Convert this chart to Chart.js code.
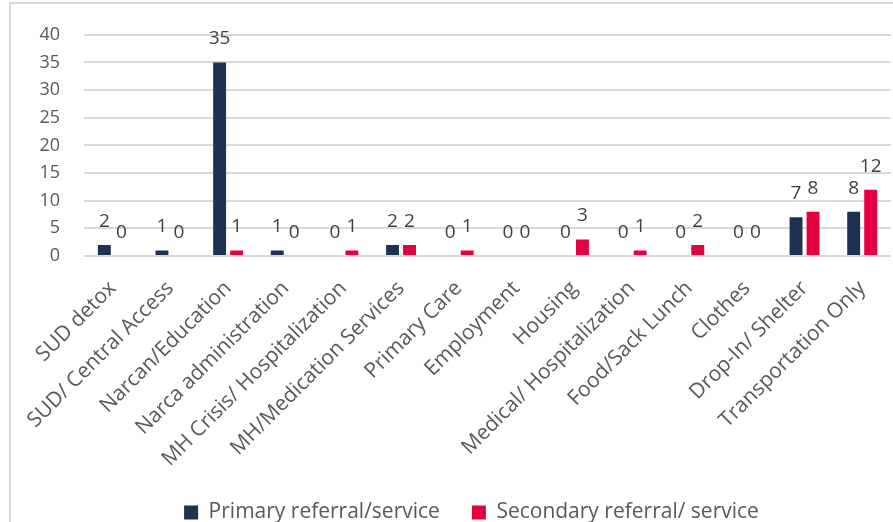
<!DOCTYPE html>
<html>
<head>
<meta charset="utf-8">
<script src="https://cdn.jsdelivr.net/npm/chart.js@4/dist/chart.umd.min.js"></script>
<style>
  html, body { margin: 0; padding: 0; background: #fff; overflow: hidden; }
  body { width: 893px; height: 522px; position: relative; }
  .wrap { position: absolute; left: 0; top: 0; width: 893px; height: 533px; }
  .frame {
    position: absolute; left: 9px; top: 2px; width: 900px; height: 540px;
    border-left: 2px solid #d9d9d9; border-top: 2px solid #d9d9d9;
    pointer-events: none;
  }
</style>
</head>
<body>
<div class="wrap"><canvas id="myChart"></canvas></div>
<div class="frame"></div>
<script>
// Data
const categories = [
  'SUD detox', 'SUD/ Central Access', 'Narcan/Education', 'Narca administration',
  'MH Crisis/ Hospitalization', 'MH/Medication Services', 'Primary Care', 'Employment',
  'Housing', 'Medical/ Hospitalization', 'Food/Sack Lunch', 'Clothes',
  'Drop-In/ Shelter', 'Transportation Only'
]
const primary = [2, 1, 35, 1, 0, 2, 0, 0, 0, 0, 0, 0, 7, 8]
const secondary = [0, 0, 1, 0, 1, 2, 1, 0, 3, 1, 2, 0, 8, 12]
const yTicks = [0, 5, 10, 15, 20, 25, 30, 35, 40]

const FONT = '"Open Sans", "DejaVu Sans", sans-serif'

// value labels above each bar
const valueLabels = {
  id: 'valueLabels',
  afterLayout(chart) {
    // nudge legend a little left, like the original
    chart.legend.left -= 16
    chart.legend.right -= 16
  },
  afterDatasetsDraw(chart) {
    const ctx = chart.ctx
    ctx.save()
    ctx.font = '19px ' + FONT
    ctx.fillStyle = '#404040'
    ctx.textAlign = 'center'
    ctx.textBaseline = 'alphabetic'
    chart.data.datasets.forEach((ds, i) => {
      chart.getDatasetMeta(i).data.forEach((bar, j) => {
        ctx.fillText(String(ds.data[j]), bar.x, bar.y - 18)
      })
    })
    ctx.restore()
  }
}

const data = {
  labels: categories,
  datasets: [
    {
      label: 'Primary referral/service',
      backgroundColor: '#1f3150',
      data: primary
    },
    {
      label: 'Secondary referral/ service',
      backgroundColor: '#e2003e',
      data: secondary
    }
  ]
}

const config = {
  type: 'bar',
  data: data,
  options: {
    responsive: true,
    maintainAspectRatio: false,
    animation: false,
    datasets: {
      bar: { categoryPercentage: 0.59, barPercentage: 0.76 }
    },
    layout: { padding: { left: 0, right: 2, top: 33, bottom: 0 } },
    scales: {
      x: {
        grid: { display: false },
        border: { display: false },
        ticks: {
          autoSkip: false,
          minRotation: 45,
          maxRotation: 45,
          padding: 12,
          color: '#595959',
          font: { family: FONT, size: 21 }
        },
        afterFit: scale => { scale.height = 214 }
      },
      y: {
        min: 0,
        max: 40,
        afterBuildTicks: scale => { scale.ticks = yTicks.map(v => ({ value: v })) },
        grid: { color: '#d9d9d9', lineWidth: 2, drawTicks: false },
        border: { display: false },
        ticks: {
          padding: 24,
          color: '#595959',
          font: { family: FONT, size: 18 }
        },
        afterFit: scale => { scale.width = 84 }
      }
    },
    plugins: {
      legend: {
        position: 'bottom',
        fullSize: false,
        labels: {
          boxWidth: 14,
          boxHeight: 14,
          padding: 32,
          color: '#595959',
          font: { family: FONT, size: 21 }
        }
      },
      title: { display: false },
      tooltip: { enabled: false }
    }
  },
  plugins: [valueLabels]
}
const myChart = new Chart(document.getElementById('myChart'), config)
</script>
</body>
</html>
